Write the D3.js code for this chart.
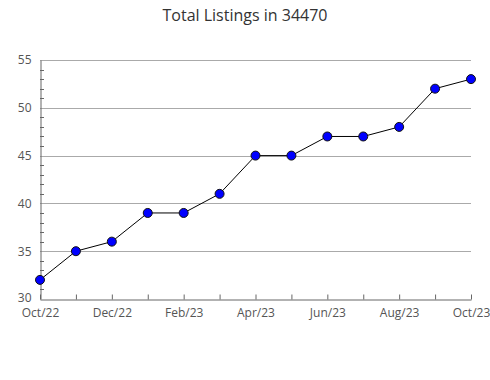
<!DOCTYPE html>
<html><head><meta charset="utf-8">
<script src="https://cdn.jsdelivr.net/npm/d3@7"></script>
<style>body{margin:0;background:#fff}svg{display:block}</style>
</head><body>
<script>
const title = "Total Listings in 34470";
const months = ["Oct/22","Nov/22","Dec/22","Jan/23","Feb/23","Mar/23","Apr/23","May/23","Jun/23","Jul/23","Aug/23","Sep/23","Oct/23"];
const values = [32,35,36,39,39,41,45,45,47,47,48,52,53];
const yTicks = [30,35,40,45,50,55];
const xLabelEvery = 2;

const W=490,H=380, L=40, R=471, T=60, B=299;
const svg=d3.select("body").append("svg").attr("width",W).attr("height",H);
const font="'Open Sans', sans-serif";

svg.append("text").attr("x",245).attr("y",21).attr("text-anchor","middle")
  .attr("font-family",font).attr("font-size",16).attr("fill","#333").text(title);

const x=d3.scalePoint().domain(months).range([L,R]);
const y=d3.scaleLinear().domain([30,55]).range([B,T]);

// gridlines
svg.append("g").selectAll("line").data(yTicks.filter(d=>d>30)).join("line")
  .attr("x1",L).attr("x2",R).attr("y1",d=>Math.round(y(d))+0.5).attr("y2",d=>Math.round(y(d))+0.5)
  .attr("stroke","#aaa").attr("stroke-width",1);

// minor y ticks
const minor=d3.range(31,55).filter(d=>d%5!==0);
svg.append("g").selectAll("line").data(minor).join("line")
  .attr("x1",L).attr("x2",L+4).attr("y1",d=>Math.round(y(d))+0.5).attr("y2",d=>Math.round(y(d))+0.5)
  .attr("stroke","#666");

// y axis
const yAxis=svg.append("g").attr("transform",`translate(${L+0.5},0)`)
  .call(d3.axisLeft(y).tickValues(yTicks).tickSize(0).tickPadding(9));
yAxis.select(".domain").attr("stroke","#666");
yAxis.selectAll(".tick line").remove();
yAxis.selectAll(".tick text").attr("font-family",font).attr("font-size",12).attr("fill","#555");
yAxis.selectAll(".tick").filter(d=>d===30).select("text").attr("dy","0.2em");

// x axis (ticks point upward, inside the plot)
const xAxis=svg.append("g").attr("transform",`translate(0,${B+0.5})`)
  .call(d3.axisBottom(x).tickSize(-5).tickSizeOuter(0).tickPadding(9).tickFormat((d,i)=>i%xLabelEvery===0?d:""));
xAxis.select(".domain").attr("stroke","#666");
xAxis.selectAll(".tick line").attr("stroke","#666");
xAxis.selectAll(".tick text").attr("font-family",font).attr("font-size",12).attr("fill","#555");

// line
svg.append("path").datum(values)
  .attr("d",d3.line().x((d,i)=>x(months[i])).y(d=>y(d)))
  .attr("fill","none").attr("stroke","#000").attr("stroke-width",1);

svg.append("g").selectAll("circle").data(values).join("circle")
  .attr("cx",(d,i)=>x(months[i])).attr("cy",d=>y(d)).attr("r",4.5)
  .attr("fill","#0000ff").attr("stroke","#111").attr("stroke-width",1);
</script>
</body></html>
